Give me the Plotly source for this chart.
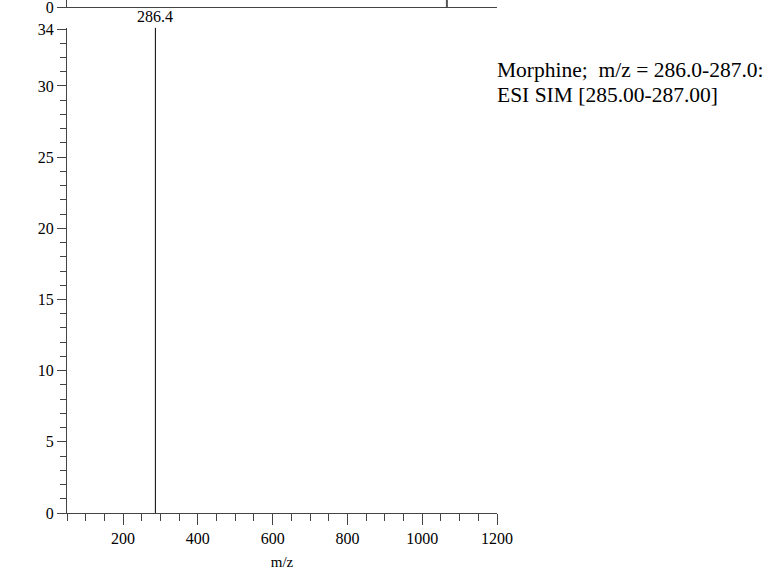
import plotly.graph_objects as go

# Data
peak_mz = [286.4]
peak_intensity = [34.1]
peak_labels = ["286.4"]
upper_peak_mz = [1066]
upper_peak_intensity = [10]
x_ticks = [200, 400, 600, 800, 1000, 1200]
y_ticks = [0, 5, 10, 15, 20, 25, 30, 34]
annotation_lines = ["Morphine;&nbsp; m/z = 286.0-287.0:", "ESI SIM [285.00-287.00]"]

FONT = "Liberation Serif, Times New Roman, serif"
AX = "#444444"

def stems(xs, ys):
    sx, sy = [], []
    for x, y in zip(xs, ys):
        sx += [x, x, None]
        sy += [0, y, None]
    return sx, sy

fig = go.Figure()
sx, sy = stems(peak_mz, peak_intensity)
fig.add_trace(go.Scatter(x=sx, y=sy, mode="lines", line=dict(color="black", width=1),
                         xaxis="x", yaxis="y", showlegend=False, hoverinfo="skip"))
ux, uy = stems(upper_peak_mz, upper_peak_intensity)
fig.add_trace(go.Scatter(x=ux, y=uy, mode="lines", line=dict(color="#555555", width=2),
                         xaxis="x2", yaxis="y2", showlegend=False, hoverinfo="skip"))

H = 513.0
fig.update_layout(
    width=771, height=571,
    margin=dict(l=67, r=274, t=0, b=58, autoexpand=False),
    paper_bgcolor="white", plot_bgcolor="white",
    font=dict(family=FONT, size=16, color="black"),
    xaxis=dict(range=[50, 1200], tickvals=x_ticks, ticks="outside", ticklen=11, tickcolor=AX,
               showline=True, linecolor=AX, linewidth=1, showgrid=False, zeroline=False,
               minor=dict(dtick=50, tick0=0, ticks="outside", ticklen=7, tickcolor=AX),
               title=dict(text="m/z", font=dict(size=15), standoff=10),
               domain=[0, 1], anchor="y", automargin=False),
    yaxis=dict(range=[0, 34.1], tickvals=y_ticks, ticks="outside", ticklen=9, tickcolor=AX,
               showline=True, linecolor=AX, linewidth=1, showgrid=False, zeroline=False,
               minor=dict(dtick=1, tick0=0, ticks="outside", ticklen=6, tickcolor=AX),
               domain=[0, (H - 27.6) / H], anchor="x", automargin=False),
    xaxis2=dict(range=[50, 1200], showticklabels=False, ticks="", showline=True, linecolor=AX,
                linewidth=1, showgrid=False, zeroline=False, anchor="y2", domain=[0, 1]),
    yaxis2=dict(range=[0, 1], tickvals=[0], ticktext=["0"], ticks="outside", ticklen=9,
                tickcolor=AX, showline=True, linecolor=AX, linewidth=1, showgrid=False,
                zeroline=False, anchor="x2", domain=[(H - 7.3) / H, 1], automargin=False,
                ticklabeloverflow="allow"),
)

for x, y, t in zip(peak_mz, peak_intensity, peak_labels):
    fig.add_annotation(x=x, y=y, xref="x", yref="y", text=t, showarrow=False,
                       yanchor="bottom", yshift=1, font=dict(size=16))

for i, line in enumerate(annotation_lines):
    fig.add_annotation(x=1, y=(H - (70 + 25 * i)) / H, xref="paper", yref="paper",
                       xanchor="left", xshift=-2, yanchor="middle", align="left", text=line,
                       showarrow=False, font=dict(size=21.5))

fig.write_html("out.html", config={"displayModeBar": False},
               post_script="document.body.style.margin='0';document.body.style.overflow='hidden';")
